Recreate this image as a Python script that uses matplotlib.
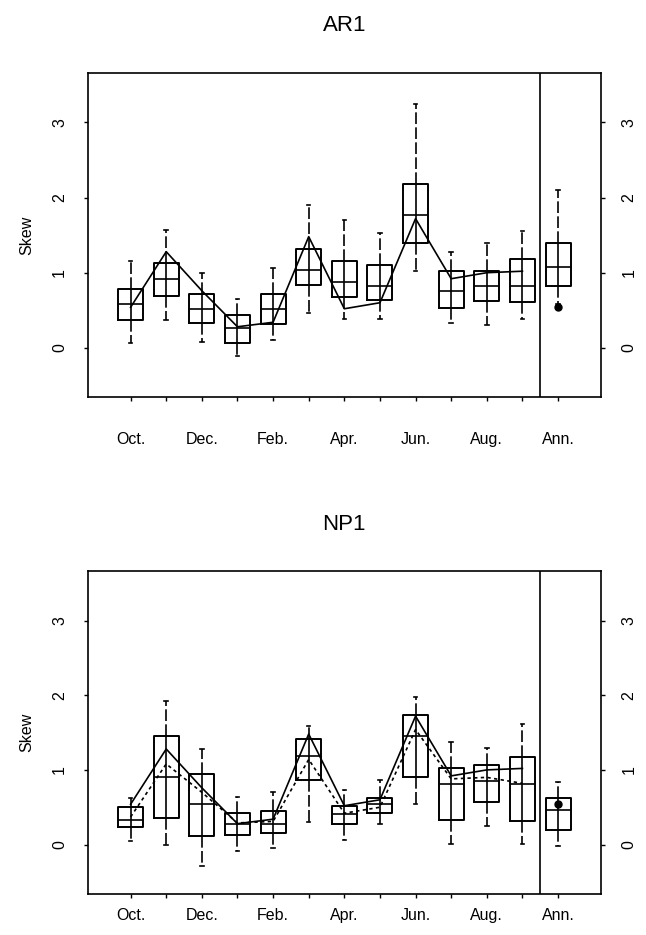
import matplotlib
matplotlib.use("Agg")
import matplotlib.pyplot as plt

plt.rcParams['font.family'] = ['Liberation Sans', 'DejaVu Sans']

months = ['Oct.', 'Nov.', 'Dec.', 'Jan.', 'Feb.', 'Mar.', 'Apr.', 'May', 'Jun.', 'Jul.', 'Aug.', 'Sep.', 'Ann.']
shown_labels = ['Oct.', '', 'Dec.', '', 'Feb.', '', 'Apr.', '', 'Jun.', '', 'Aug.', '', 'Ann.']

# historical (observed) skew, Oct..Sep, and annual
hist_skew = [0.54, 1.28, 0.76, 0.28, 0.34, 1.48, 0.52, 0.60, 1.72, 0.92, 1.00, 1.02]
hist_ann = 0.55

# AR1 generated series: box statistics (Oct..Sep, Ann)
ar1_whislo = [0.07, 0.37, 0.08, -0.11, 0.10, 0.46, 0.38, 0.39, 1.02, 0.33, 0.30, 0.39, 0.58]
ar1_q1 = [0.37, 0.69, 0.33, 0.06, 0.32, 0.84, 0.68, 0.64, 1.40, 0.53, 0.62, 0.61, 0.82]
ar1_med = [0.58, 0.92, 0.52, 0.26, 0.52, 1.04, 0.88, 0.82, 1.77, 0.76, 0.82, 0.82, 1.08]
ar1_q3 = [0.78, 1.13, 0.72, 0.44, 0.72, 1.32, 1.15, 1.10, 2.18, 1.02, 1.02, 1.18, 1.40]
ar1_whishi = [1.16, 1.57, 0.99, 0.65, 1.06, 1.90, 1.70, 1.53, 3.24, 1.28, 1.40, 1.55, 2.10]

# NP1 generated series
np1_whislo = [0.05, 0.00, -0.29, -0.08, -0.04, 0.30, 0.06, 0.27, 0.54, 0.01, 0.25, 0.01, -0.02]
np1_q1 = [0.24, 0.35, 0.11, 0.13, 0.15, 0.86, 0.28, 0.42, 0.90, 0.33, 0.57, 0.32, 0.19]
np1_med = [0.33, 0.91, 0.54, 0.28, 0.28, 1.19, 0.41, 0.54, 1.46, 0.81, 0.85, 0.81, 0.46]
np1_q3 = [0.50, 1.46, 0.94, 0.42, 0.45, 1.42, 0.52, 0.63, 1.73, 1.02, 1.07, 1.17, 0.63]
np1_whishi = [0.63, 1.92, 1.28, 0.64, 0.71, 1.59, 0.73, 0.86, 1.98, 1.37, 1.30, 1.61, 0.84]
# dotted line in NP1 panel (mean of generated skew)
np1_mean = [0.37, 1.08, 0.70, 0.29, 0.31, 1.14, 0.42, 0.50, 1.54, 0.88, 0.90, 0.82]


def draw_panel(ax, title, whislo, q1, med, q3, whishi, dotted=None, xpad=22):
    pos = list(range(1, len(months) + 1))
    stats = []
    for i in range(len(months)):
        stats.append(dict(whislo=whislo[i], q1=q1[i], med=med[i], q3=q3[i],
                          whishi=whishi[i], fliers=[]))
    ax.bxp(stats, positions=pos, widths=0.7, capwidths=0.1, showfliers=False,
           boxprops=dict(color='black', linewidth=1.4),
           medianprops=dict(color='black', linewidth=1.2),
           whiskerprops=dict(color='black', linewidth=1.2, linestyle=(0, (7, 2))),
           capprops=dict(color='black', linewidth=1.2))
    # vertical line through each box
    ax.vlines(pos, q1, q3, colors='black', linewidth=1.2)

    ax.plot(pos[:12], hist_skew, color='black', linewidth=1.2)
    if dotted is not None:
        ax.plot(pos[:12], dotted, color='black', linewidth=1.2, linestyle=(0, (2, 2)))
    ax.plot(13, hist_ann, 'o', color='black', markersize=5)

    ax.axvline(12.5, color='black', linewidth=1.2)
    ax.set_xlim(-0.2, 14.2)
    ax.set_ylim(-0.66, 3.66)
    ax.set_xticks(pos)
    ax.set_xticklabels(shown_labels)
    ax.set_yticks([0, 1, 2, 3])
    ax.set_yticklabels(['0', '1', '2', '3'])
    ax.tick_params(axis='x', direction='out', length=3, width=1, pad=xpad, labelsize=11.5)
    ax.tick_params(axis='y', direction='out', length=3, width=1, pad=12, labelsize=11.5,
                   labelrotation=90, right=True, labelright=True)
    for lab in ax.get_yticklabels():
        lab.set_va('center')
    for sp in ax.spines.values():
        sp.set_linewidth(1.2)
    ax.set_ylabel('Skew', fontsize=11.5)
    ax.yaxis.set_label_coords(-0.105, 0.5)
    ax.set_title(title, fontsize=16, pad=30)


fig = plt.figure(figsize=(6.46, 9.35), dpi=100)
ax1 = fig.add_axes([0.136, 0.575, 0.794, 0.347])
ax2 = fig.add_axes([0.136, 0.044, 0.794, 0.345])

draw_panel(ax1, 'AR1', ar1_whislo, ar1_q1, ar1_med, ar1_q3, ar1_whishi, xpad=22)
draw_panel(ax2, 'NP1', np1_whislo, np1_q1, np1_med, np1_q3, np1_whishi, dotted=np1_mean, xpad=7)

fig.savefig('out.png', dpi=100)
